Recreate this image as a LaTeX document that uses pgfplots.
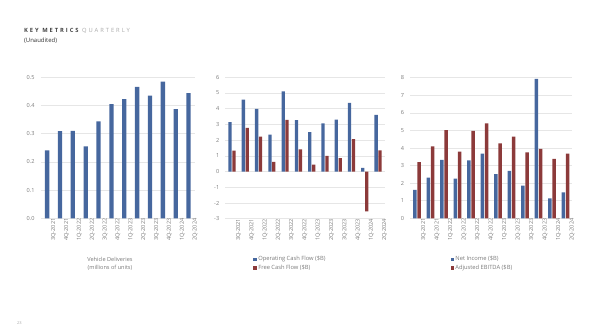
\documentclass[border=0pt]{standalone}
\usepackage{fontspec}
\setmainfont{Open Sans}
\newfontfamily\titlefont[LetterSpace=34]{Open Sans}
\usepackage{pgfplots}
\pgfplotsset{compat=1.18}
\definecolor{barblue}{HTML}{46679E}
\definecolor{barred}{HTML}{8C3A3A}
\definecolor{txtgray}{HTML}{7A7A7A}
\definecolor{gridgray}{HTML}{E6E6E6}
\pgfplotsset{
  kmbase/.style={
    scale only axis,
    axis line style={draw=none},
    tick style={draw=none},
    ymajorgrids,
    grid style={gridgray, line width=0.5bp},
    major tick length=0pt,
    xmin=-0.5, xmax=11.5,
    xtick={0,...,11},
    xticklabels={3Q-2021,4Q-2021,1Q-2022,2Q-2022,3Q-2022,4Q-2022,1Q-2023,2Q-2023,3Q-2023,4Q-2023,1Q-2024,2Q-2024},
    xticklabel style={rotate=90, anchor=east, inner sep=0pt, yshift=-6.5bp, font=\fontsize{5.6}{7}\selectfont, text=txtgray},
    yticklabel style={anchor=east, inner sep=0pt, xshift=-6bp, font=\fontsize{5.6}{7}\selectfont, text=txtgray},
    /pgf/number format/assume math mode=true,
    legend style={draw=none, fill=none, inner sep=0pt, row sep=0.6bp, font=\fontsize{5.8}{7}\selectfont, text=txtgray, nodes={inner sep=1.2pt}},
    legend cell align=left,
  },
  sq/.style={legend image code/.code={\fill[##1,draw=none] (0bp,-1.8bp) rectangle (3.6bp,1.8bp);}},
}
\begin{document}
\begin{tikzpicture}[x=1bp,y=1bp]
\useasboundingbox (0,0) rectangle (596,333);
\node[anchor=base west, inner sep=0pt, font=\fontsize{5.8}{6}\titlefont] at (24,301) {\textcolor[HTML]{404040}{\bfseries KEY METRICS} \textcolor[HTML]{A8A8A8}{QUARTERLY}};
\node[anchor=base west, inner sep=0pt, font=\fontsize{6}{6}\selectfont, text=black!80] at (24,291) {(Unaudited)};
\node[anchor=base west, inner sep=0pt, font=\fontsize{4}{5}\selectfont, text=black!35] at (17,9) {23};

% Chart 1
\begin{axis}[kmbase, at={(40.7bp,114.7bp)}, anchor=south west,
  width=154.3bp, height=141bp, ymin=0, ymax=0.5,
  ytick={0,0.1,...,0.5},
  yticklabel style={/pgf/number format/.cd, fixed, fixed zerofill, precision=1},
  ybar, bar width=4.3bp,
  xlabel={Vehicle Deliveries\\(millions of units)},
  xlabel style={at={(axis description cs:0.449,-0.272)}, anchor=north, align=center, inner sep=0pt, font=\fontsize{5.6}{8}\selectfont, text=txtgray},
]
\addplot[fill=barblue, draw=none] coordinates {(0,0.241) (1,0.309) (2,0.310) (3,0.255) (4,0.344) (5,0.405) (6,0.423) (7,0.466) (8,0.435) (9,0.485) (10,0.387) (11,0.444)};
\end{axis}

% Chart 2
\begin{axis}[kmbase, at={(225.4bp,114.3bp)}, anchor=south west,
  width=159.3bp, height=141.4bp, ymin=-3, ymax=6,
  ytick={-3,...,6},
  ybar=0.6bp, bar width=3.3bp,
  legend style={at={(0.175,-0.257)}, anchor=north west},
]
\addplot[fill=barblue, draw=none, sq] coordinates {(0,3.147) (1,4.585) (2,3.995) (3,2.351) (4,5.100) (5,3.278) (6,2.513) (7,3.065) (8,3.308) (9,4.370) (10,0.242) (11,3.612)};
\addplot[fill=barred, draw=none, sq] coordinates {(0,1.331) (1,2.775) (2,2.228) (3,0.621) (4,3.297) (5,1.420) (6,0.441) (7,1.005) (8,0.848) (9,2.064) (10,-2.531) (11,1.342)};
\legend{Operating Cash Flow (\$B), Free Cash Flow (\$B)}
\end{axis}

% Chart 3
\begin{axis}[kmbase, at={(410.25bp,114.7bp)}, anchor=south west,
  width=162bp, height=140.6bp, ymin=0, ymax=8,
  ytick={0,...,8},
  ybar=0.6bp, bar width=3.5bp,
  legend style={at={(0.248,-0.261)}, anchor=north west},
]
\addplot[fill=barblue, draw=none, sq] coordinates {(0,1.618) (1,2.321) (2,3.318) (3,2.259) (4,3.292) (5,3.687) (6,2.513) (7,2.703) (8,1.853) (9,7.928) (10,1.129) (11,1.478)};
\addplot[fill=barred, draw=none, sq] coordinates {(0,3.194) (1,4.087) (2,5.023) (3,3.791) (4,4.968) (5,5.404) (6,4.267) (7,4.653) (8,3.758) (9,3.953) (10,3.384) (11,3.674)};
\legend{Net Income (\$B), Adjusted EBITDA (\$B)}
\end{axis}
\end{tikzpicture}
\end{document}
